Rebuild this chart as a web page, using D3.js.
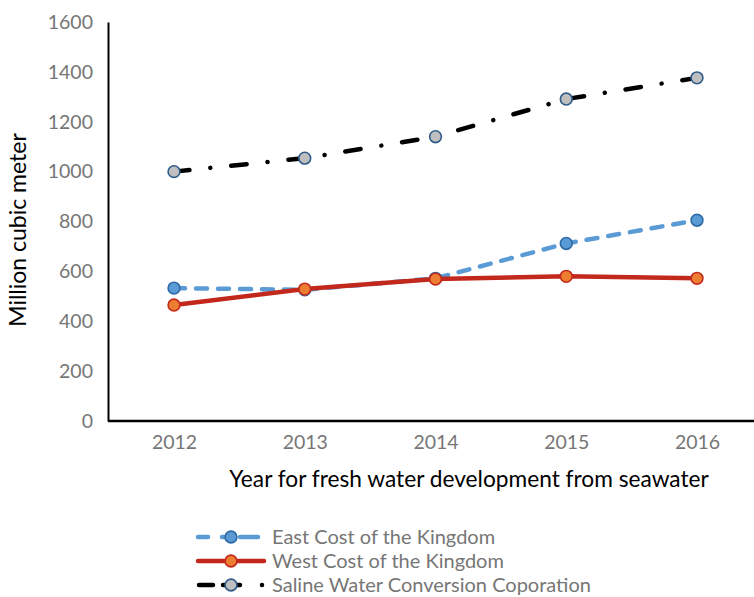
<!DOCTYPE html>
<html>
<head>
<meta charset="utf-8">
<script src="https://cdn.jsdelivr.net/npm/d3@7"></script>
<style>
  html, body { margin: 0; padding: 0; background: #fff; }
  svg { display: block; }
  text { font-family: Lato, "Open Sans", sans-serif; }
</style>
</head>
<body>
<div id="chart"></div>
<script>
// Fresh water produced from seawater, million cubic metres per year
const years = ["2012", "2013", "2014", "2015", "2016"];
const eastCoast = [533, 526, 572, 712, 805];
const westCoast = [465, 529, 569, 580, 572];
const salineCorp = [1000, 1054, 1140, 1291, 1376];
const yTicks = [0, 200, 400, 600, 800, 1000, 1200, 1400, 1600];
const seriesNames = [
  "East Cost of the Kingdom",
  "West Cost of the Kingdom",
  "Saline Water Conversion Coporation"
];

const W = 754, H = 597;
const svg = d3.select("#chart").append("svg").attr("width", W).attr("height", H);

const x = d3.scalePoint().domain(years).range([174, 697]);
const y = d3.scaleLinear().domain([0, 1600]).range([421, 22]);

const styles = [
  { values: eastCoast, line: "#5b9bd5", dash: "11,11", fill: "#5b9bd5", stroke: "#2e6aa6" },
  { values: westCoast, line: "#c3281c", dash: null, fill: "#ed7d31", stroke: "#c3281c" },
  { values: salineCorp, line: "#000000", dash: "15.5,21,0.01,21", fill: "#bfbfbf", stroke: "#2f5b8a" }
];

// axes
const yAxis = d3.axisLeft(y).tickValues(yTicks).tickFormat(d3.format("d")).tickSize(0).tickPadding(15);
const gy = svg.append("g").attr("transform", "translate(108,0)").call(yAxis);
gy.select(".domain").attr("stroke", "#000").attr("stroke-width", 2);
gy.selectAll("text").attr("fill", "#767676").attr("font-size", 19.5);

const xAxis = d3.axisBottom(x).tickSize(0).tickPadding(14);
const gx = svg.append("g").attr("transform", "translate(0,421)").call(xAxis);
gx.select(".domain").attr("d", "M108,0H760").attr("stroke", "#000").attr("stroke-width", 2.5);
gx.selectAll("text").attr("fill", "#767676").attr("font-size", 19.5);

// axis titles
svg.append("text")
  .attr("x", 469).attr("y", 487)
  .attr("text-anchor", "middle")
  .attr("font-size", 22.7).attr("fill", "#000")
  .text("Year for fresh water development from seawater");

svg.append("text")
  .attr("transform", "translate(26,230) rotate(-90)")
  .attr("text-anchor", "middle")
  .attr("font-size", 23).attr("fill", "#000")
  .text("Million cubic meter");

// series
const line = d3.line().x((d, i) => x(years[i])).y(d => y(d));

styles.forEach(s => {
  const g = svg.append("g");
  g.append("path")
    .attr("d", line(s.values))
    .attr("fill", "none")
    .attr("stroke", s.line)
    .attr("stroke-width", 4.5)
    .attr("stroke-linecap", "round")
    .attr("stroke-linejoin", "round")
    .attr("stroke-dasharray", s.dash);
  g.selectAll("circle").data(s.values).join("circle")
    .attr("cx", (d, i) => x(years[i]))
    .attr("cy", d => y(d))
    .attr("r", 5.9)
    .attr("fill", s.fill)
    .attr("stroke", s.stroke)
    .attr("stroke-width", 1.6);
});

// legend
const legendRows = [537, 561, 585];
styles.forEach((s, i) => {
  const g = svg.append("g").attr("transform", `translate(0,${legendRows[i]})`);
  if (i === 0) {
    g.append("path").attr("d", "M198,0H208M222,0H226M240,0H258")
      .attr("stroke", s.line).attr("stroke-width", 4.5).attr("stroke-linecap", "round");
  } else if (i === 1) {
    g.append("path").attr("d", "M198,0H264")
      .attr("stroke", s.line).attr("stroke-width", 4.5).attr("stroke-linecap", "round");
  } else {
    g.append("path").attr("d", "M199,0H213M223,0H240M262,0H262.01")
      .attr("stroke", s.line).attr("stroke-width", 4.5).attr("stroke-linecap", "round");
  }
  g.append("circle").attr("cx", 231).attr("cy", 0).attr("r", 5.9)
    .attr("fill", s.fill).attr("stroke", s.stroke).attr("stroke-width", 1.6);
  g.append("text").attr("x", 272).attr("y", 0).attr("dy", "0.35em")
    .attr("font-size", 20).attr("fill", "#767676")
    .text(seriesNames[i]);
});
</script>
</body>
</html>
